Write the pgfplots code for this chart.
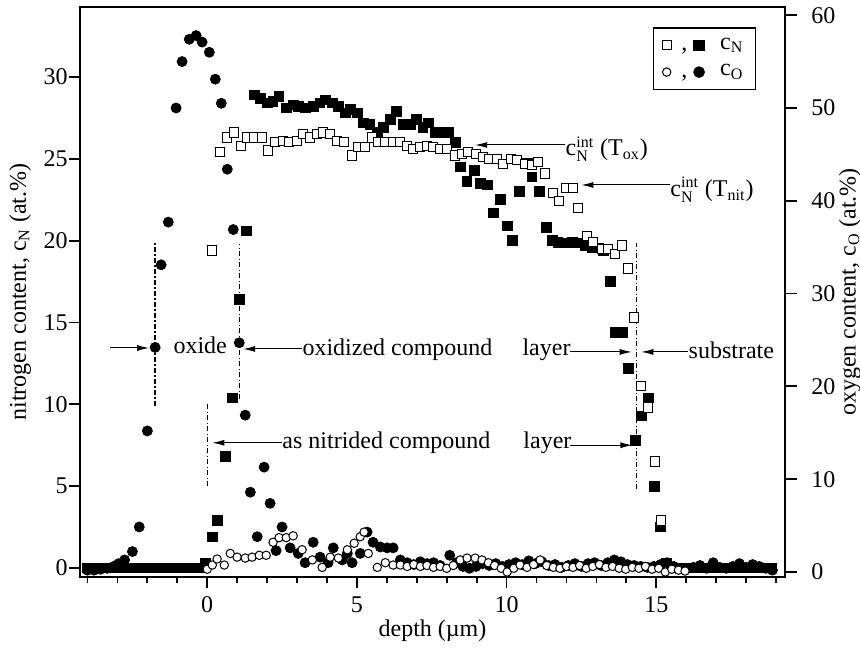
\documentclass[12pt,border=0pt]{standalone}
\usepackage{amsmath}
\usepackage{fontspec}
\setmainfont{Liberation Serif}
\usepackage{pgfplots}
\pgfplotsset{compat=1.18}
\usepackage{pgfplotstable}
\usetikzlibrary{arrows.meta}
\newcommand\ff{\fontsize{12}{14}\selectfont}

% filled squares: c_N (nitrided), left axis
\pgfplotstableread{
x N
-4.00 0
-3.78 0
-3.56 0
-3.34 0
-3.12 0
-2.90 0
-2.68 0
-2.46 0
-2.24 0
-2.02 0
-1.80 0
-1.58 0
-1.36 0
-1.14 0
-0.92 0
-0.70 0
-0.48 0
-0.26 0
-0.07 0.3
0.17 1.9
0.33 2.9
0.60 6.8
0.84 10.4
1.07 16.4
1.30 20.6
1.57 28.9
1.77 28.7
2.00 28.4
2.20 28.5
2.40 28.8
2.64 28.1
2.87 28.3
3.05 28.2
3.27 28.1
3.54 28.2
3.77 28.4
3.94 28.6
4.18 28.4
4.38 28.2
4.61 27.8
4.78 28.0
5.01 27.8
5.21 27.2
5.44 27.1
5.68 26.6
5.88 26.9
6.11 27.4
6.31 27.9
6.55 27.1
6.78 27.1
6.98 27.4
7.21 26.9
7.38 27.2
7.62 26.6
7.85 26.6
8.05 26.6
8.28 26.0
8.45 24.5
8.68 23.6
8.92 24.3
9.12 23.5
9.35 23.4
9.55 21.7
9.79 22.5
10.02 20.9
10.19 20.0
10.42 23.0
10.69 24.7
10.85 23.9
11.09 23.0
11.32 20.8
11.52 20.0
11.72 19.9
11.96 19.85
12.19 19.9
12.39 19.85
12.63 19.7
12.86 19.6
13.06 19.55
13.23 19.4
13.46 17.5
13.63 14.4
13.86 14.4
14.06 12.2
14.30 7.8
14.50 9.3
14.73 10.4
14.93 5.0
15.13 2.5
15.33 0.3
15.55 0
15.77 0
15.99 0
16.21 0
16.43 0
16.65 0
16.87 0
17.09 0
17.31 0
17.53 0
17.75 0
17.97 0
18.19 0
18.41 0
18.63 0
18.85 0
}\fsq

% open squares: c_N (oxidized), left axis
\pgfplotstableread{
x N
0.17 19.4
0.43 25.4
0.67 26.3
0.90 26.6
1.14 25.8
1.34 26.3
1.57 26.3
1.84 26.3
2.04 25.5
2.27 26.0
2.54 26.1
2.74 26.0
3.01 26.1
3.21 26.5
3.44 26.3
3.67 26.5
3.87 26.6
4.11 26.5
4.34 26.1
4.58 26.0
4.84 25.2
5.04 25.7
5.28 25.7
5.51 26.3
5.71 26.0
5.95 26.0
6.21 26.0
6.45 26.0
6.68 25.8
6.88 25.6
7.11 25.7
7.35 25.8
7.55 25.7
7.78 25.6
8.02 25.6
8.28 25.2
8.52 25.3
8.72 25.4
8.98 25.3
9.22 25.1
9.42 25.0
9.69 25.0
9.89 24.7
10.15 25.0
10.35 24.9
10.62 24.7
10.85 24.6
11.06 24.8
11.29 24.1
11.56 22.9
11.76 22.4
11.99 23.2
12.22 23.2
12.39 22.0
12.69 20.3
12.89 19.9
13.19 19.5
13.39 19.5
13.63 19.2
13.86 19.7
14.06 18.3
14.26 15.3
14.50 11.1
14.73 9.8
14.96 6.5
15.16 2.9
15.33 0.0
}\osq

% filled circles: c_O, right axis
\pgfplotstableread{
x O
-4.00 0.2
-3.78 0.2
-3.56 0.3
-3.34 0.4
-3.12 0.6
-2.96 0.9
-2.76 1.3
-2.50 2.2
-2.27 4.85
-2.00 15.2
-1.74 24.2
-1.54 33.1
-1.30 37.7
-1.04 50.0
-0.84 55.0
-0.60 57.4
-0.37 57.8
-0.17 57.1
0.07 56.0
0.27 53.1
0.47 50.5
0.67 43.4
0.87 36.9
1.07 24.7
1.27 16.9
1.44 8.6
1.67 3.8
1.90 11.3
2.10 7.4
2.30 2.3
2.50 4.85
2.77 2.6
3.04 2.0
3.27 1.0
3.54 3.2
3.77 1.6
4.04 1.0
4.21 2.6
4.51 1.3
4.68 2.0
4.84 1.0
5.11 2.0
5.34 4.3
5.54 3.2
5.78 2.7
6.01 2.6
6.21 2.6
6.45 1.3
6.68 1.0
6.90 0.8
7.12 1.1
7.34 0.9
7.56 1.0
7.78 0.7
8.10 1.8
8.32 1.0
8.54 0.6
8.76 0.4
8.98 0.6
9.20 0.9
9.42 0.7
9.64 0.9
9.86 0.6
10.08 0.8
10.30 1.0
10.52 0.8
10.74 1.2
10.96 0.9
11.18 1.1
11.40 0.7
11.62 0.8
11.84 0.5
12.06 0.7
12.28 0.9
12.50 0.6
12.72 0.9
12.94 1.0
13.16 0.7
13.38 1.0
13.60 1.3
13.82 1.1
14.04 0.8
14.26 0.7
14.48 0.6
14.70 0.5
14.92 0.6
15.14 0.8
15.36 1.0
15.58 0.6
15.80 0.4
16.02 0.4
16.24 0.5
16.46 0.7
16.68 0.4
16.90 1.0
17.12 0.5
17.34 0.4
17.56 0.6
17.78 0.9
18.00 0.5
18.22 0.8
18.44 0.6
18.66 0.4
18.88 0.2
}\fci

% open circles: c_O, right axis
\pgfplotstableread{
x O
0.00 0.3
0.17 0.75
0.33 1.4
0.57 0.75
0.77 2.0
1.00 1.6
1.27 1.5
1.50 1.6
1.74 1.8
1.97 1.8
2.20 3.2
2.40 3.7
2.64 3.7
2.87 3.9
3.17 2.4
3.51 1.3
3.84 0.5
4.11 1.6
4.38 1.5
4.68 2.4
4.91 3.1
5.11 3.8
5.24 4.3
5.38 2.0
5.68 0.5
5.95 1.0
6.21 0.75
6.45 0.75
6.68 0.6
6.90 0.8
7.12 0.6
7.34 0.7
7.56 0.5
7.78 0.6
8.00 0.4
8.22 0.7
8.45 1.3
8.68 1.5
8.95 1.5
9.18 1.3
9.39 1.0
9.60 0.7
9.82 0.4
10.02 0.0
10.24 0.4
10.45 0.75
10.68 0.5
10.90 0.8
11.12 1.3
11.34 0.7
11.56 0.5
11.78 0.4
12.00 0.6
12.22 0.5
12.44 0.7
12.66 0.4
12.88 0.6
13.10 0.8
13.32 0.5
13.54 0.6
13.76 0.4
13.98 0.3
14.20 0.5
14.42 0.4
14.64 0.6
14.86 0.3
15.08 0.4
15.30 0.0
15.52 0.3
15.74 0.2
15.96 0.1
}\oci

\tikzset{
  dd/.style={line width=0.7pt, dash pattern=on 2.5pt off 1.2pt on 0.6pt off 1.2pt},
  arr/.style={line width=0.5pt, -{Latex[length=6pt,width=3pt]}},
  lab/.style={inner sep=0pt, anchor=base west, font=\ff}
}

\begin{document}
\begin{tikzpicture}[font=\ff]
\begin{axis}[
  scale only axis, width=352.5pt, height=285pt,
  xmin=-4.25, xmax=19.3, ymin=-0.55, ymax=34.27,
  xtick={0,5,10,15}, minor xtick={-4,-3,...,19},
  ytick={0,5,...,30},
  xtick pos=left, ytick pos=left,
  tick align=outside,
  major tick length=5.5pt, minor tick length=3pt,
  every tick/.style={black, line width=0.9pt},
  axis line style={line width=0.9pt},
  /pgf/number format/assume math mode=true,
  tick label style={font=\ff},
  label style={font=\ff},
  xlabel={depth (µm)},
  xlabel style={at={(axis description cs:0.5,-0.1047)}, anchor=base},
  ylabel={nitrogen content, c\textsubscript{N} (at.\%)},
  ylabel style={at={(axis description cs:-0.085,0.5)}, anchor=center},
  yticklabel style={inner xsep=0.5pt},
]
\addplot[only marks, mark=square*, mark size=2.4pt, mark options={fill=black, draw=black}] table[x=x,y=N]{\fsq};
\addplot[only marks, mark=square*, mark size=2.3pt, mark options={fill=white, draw=black, line width=0.5pt}] table[x=x,y=N]{\osq};

\draw[dd] (axis cs:-1.74,9.9) -- (axis cs:-1.74,19.9);
\draw[dd] (axis cs:1.07,10.3) -- (axis cs:1.07,19.8);
\draw[dd] (axis cs:0,5.0) -- (axis cs:0,10.0);
\draw[dd] (axis cs:14.33,4.8) -- (axis cs:14.33,19.85);

\draw[arr] (axis cs:-3.24,13.44) -- (axis cs:-1.94,13.44);
\node[lab] at (axis cs:-1.14,13.13) {oxide};
\draw[arr] (axis cs:3.17,13.38) -- (axis cs:1.20,13.38);
\node[lab] at (axis cs:3.17,13.0) {oxidized compound};
\node[lab] at (axis cs:10.52,13.0) {layer};
\draw[arr] (axis cs:12.12,13.2) -- (axis cs:14.18,13.2);
\draw[arr] (axis cs:16.07,13.2) -- (axis cs:14.50,13.2);
\node[lab] at (axis cs:16.07,12.8) {substrate};

\draw[arr] (axis cs:2.5,7.65) -- (axis cs:0.17,7.65);
\node[lab] at (axis cs:2.5,7.3) {as nitrided compound};
\node[lab] at (axis cs:10.55,7.3) {layer};
\draw[arr] (axis cs:12.12,7.5) -- (axis cs:14.2,7.5);

\draw[arr] (axis cs:11.96,25.84) -- (axis cs:8.95,25.84);
\node[lab] at (axis cs:11.96,25.17) {\(\text{c}^{\text{int}}_{\text{N}}\) (T\textsubscript{ox})};
\draw[arr] (axis cs:15.46,23.4) -- (axis cs:12.5,23.4);
\node[lab] at (axis cs:15.46,22.7) {\(\text{c}^{\text{int}}_{\text{N}}\) (T\textsubscript{nit})};
\end{axis}

\begin{axis}[
  scale only axis, width=352.5pt, height=285pt,
  xmin=-4.25, xmax=19.3, ymin=-0.54, ymax=60.88,
  axis x line=none, axis y line*=right,
  ytick={0,10,...,60}, ytick pos=right,
  tick align=outside, major tick length=6pt,
  every tick/.style={black, line width=0.9pt},
  axis line style={line width=0.9pt},
  /pgf/number format/assume math mode=true,
  tick label style={font=\ff},
  label style={font=\ff},
  ylabel={oxygen content, c\textsubscript{O} (at.\%)},
  ylabel style={at={(axis description cs:1.092,0.5)}, anchor=center},
  yticklabel style={inner xsep=7pt},
  legend style={at={(axis description cs:0.959,0.965)}, anchor=north east,
    draw=black, line width=0.8pt, inner xsep=4pt, inner ysep=3pt,
    row sep=2pt, cells={anchor=west}, font=\ff},
]
\addplot[forget plot, only marks, mark=*, mark size=2.5pt, mark options={fill=black, draw=black}] table[x=x,y=O]{\fci};
\addplot[forget plot, only marks, mark=*, mark size=2.1pt, mark options={fill=white, draw=black, line width=0.5pt}] table[x=x,y=O]{\oci};
\addlegendimage{legend image code/.code={
  \draw[line width=0.5pt, fill=white] (0pt,-2.3pt) rectangle (4.6pt,2.3pt);
  \node[inner sep=0pt, anchor=base, font=\ff] at (11.2pt,-2.5pt) {,};
  \fill[black] (16.1pt,-2.4pt) rectangle (20.9pt,2.4pt);
  \path[draw=none] (0pt,0pt) -- (27pt,0pt);
}}
\addlegendentry{c\textsubscript{N}}
\addlegendimage{legend image code/.code={
  \draw[line width=0.5pt, fill=white] (2.3pt,0pt) circle (2.1pt);
  \node[inner sep=0pt, anchor=base, font=\ff] at (11.2pt,-2.5pt) {,};
  \fill[black] (18.5pt,0pt) circle (2.5pt);
  \path[draw=none] (0pt,0pt) -- (27pt,0pt);
}}
\addlegendentry{c\textsubscript{O}}
\end{axis}
\pgfresetboundingbox
\path[use as bounding box] (-40pt,-36pt) rectangle (390pt,288.5pt);
\end{tikzpicture}
\end{document}
